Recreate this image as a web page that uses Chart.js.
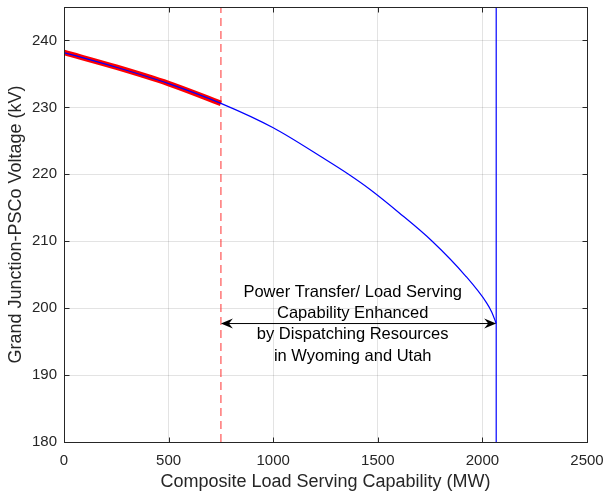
<!DOCTYPE html>
<html>
<head>
<meta charset="utf-8">
<script src="https://cdn.jsdelivr.net/npm/chart.js@4/dist/chart.umd.min.js"></script>
<style>
  html, body { margin: 0; padding: 0; background: #fff; }
  #wrap { width: 607px; height: 493px; }
</style>
</head>
<body>
<div id="wrap"><canvas id="c" width="607" height="493"></canvas></div>
<script>
// PV curve: composite load serving capability (MW) vs Grand Junction-PSCo voltage (kV)
const loadMW = [0, 250, 500, 750, 1000, 1250, 1360, 1460, 1600, 1760, 1920, 2020, 2045, 2066];
const voltageKV = [238.2, 236.0, 233.55, 230.6, 226.95, 222.2, 220.0, 217.8, 214.3, 210.0,
                   204.8, 200.8, 199.4, 197.7];

// Limits before and after dispatching resources in Wyoming and Utah
const baseLimitMW = 750;
const enhancedLimitMW = 2066;
const arrowKV = 197.7;
const annotationLines = ['Power Transfer/ Load Serving', 'Capability Enhanced',
                         'by Dispatching Resources', 'in Wyoming and Utah'];
const annotationMW = 1380;

// Axis ranges and tick values
const xRange = [0, 2500];
const yRange = [180, 245];
const xTicks = [0, 500, 1000, 1500, 2000, 2500];
const yTicks = [180, 190, 200, 210, 220, 230, 240];

const FONT = '"Liberation Sans", Arial, Helvetica, sans-serif';
const INK = '#262626';
const GRID = 'rgba(38,38,38,0.13)';

const curve = loadMW.map((x, i) => ({ x, y: voltageKV[i] }));
const baseSegment = curve.filter(p => p.x <= baseLimitMW);

const frameAndNotes = {
  id: 'frameAndNotes',
  afterDatasetsDraw(chart) {
    const { ctx, chartArea: a, scales: { x, y } } = chart;
    const snap = v => Math.round(v) + 0.5;
    ctx.save();
    // box and inward tick marks
    ctx.strokeStyle = INK;
    ctx.lineWidth = 1;
    ctx.beginPath();
    const L = snap(a.left), R = snap(a.right), T = snap(a.top), B = snap(a.bottom);
    ctx.rect(L, T, R - L, B - T);
    const tl = 5;
    xTicks.forEach(v => {
      const px = snap(x.getPixelForValue(v));
      ctx.moveTo(px, B); ctx.lineTo(px, B - tl);
      ctx.moveTo(px, T); ctx.lineTo(px, T + tl);
    });
    yTicks.forEach(v => {
      const py = snap(y.getPixelForValue(v));
      ctx.moveTo(L, py); ctx.lineTo(L + tl, py);
      ctx.moveTo(R, py); ctx.lineTo(R - tl, py);
    });
    ctx.stroke();

    // double-headed arrow between the two limits
    const x0 = x.getPixelForValue(baseLimitMW);
    const x1 = x.getPixelForValue(enhancedLimitMW);
    const ya = y.getPixelForValue(arrowKV);
    ctx.strokeStyle = '#000';
    ctx.fillStyle = '#000';
    ctx.beginPath();
    ctx.moveTo(x0 + 4, ya); ctx.lineTo(x1 - 4, ya);
    ctx.stroke();
    const head = (tip, dir) => {
      ctx.beginPath();
      ctx.moveTo(tip, ya);
      ctx.lineTo(tip + dir * 12, ya - 5);
      ctx.lineTo(tip + dir * 8, ya);
      ctx.lineTo(tip + dir * 12, ya + 5);
      ctx.closePath();
      ctx.fill();
    };
    head(x0, 1);
    head(x1, -1);

    // annotation text
    ctx.fillStyle = '#000';
    ctx.font = '16.5px ' + FONT;
    ctx.textAlign = 'center';
    ctx.textBaseline = 'middle';
    const cx = x.getPixelForValue(annotationMW);
    const lh = 21.3;
    const cy = ya + 0.5;
    annotationLines.forEach((t, i) => {
      ctx.fillText(t, cx, cy + (i - 1.5) * lh);
    });
    ctx.restore();
  }
};

const noEdgePadding = s => {
  s.paddingLeft = 0; s.paddingRight = 0; s.paddingTop = 0; s.paddingBottom = 0;
};

new Chart(document.getElementById('c'), {
  type: 'line',
  data: {
    datasets: [
      {
        data: curve, borderColor: '#0000ff', borderWidth: 1.2,
        pointRadius: 0, cubicInterpolationMode: 'monotone', order: 1
      },
      {
        data: baseSegment, borderColor: '#ff0000', borderWidth: 5.5,
        pointRadius: 0, cubicInterpolationMode: 'monotone', order: 2
      },
      {
        data: [{ x: baseLimitMW, y: yRange[0] }, { x: baseLimitMW, y: yRange[1] }],
        borderColor: 'rgba(255, 60, 60, 0.7)', borderWidth: 1.5, borderDash: [8, 5],
        pointRadius: 0, order: 3
      },
      {
        data: [{ x: enhancedLimitMW, y: yRange[0] }, { x: enhancedLimitMW, y: yRange[1] }],
        borderColor: '#0000ff', borderWidth: 1.2, pointRadius: 0, order: 1
      }
    ]
  },
  options: {
    responsive: false,
    animation: false,
    devicePixelRatio: 1,
    layout: { padding: { top: 7, right: 20, left: 0, bottom: 0 } },
    plugins: { legend: { display: false }, tooltip: { enabled: false } },
    scales: {
      x: {
        type: 'linear', min: xRange[0], max: xRange[1],
        afterFit: s => { s.height = 51; noEdgePadding(s); },
        afterBuildTicks: s => { s.ticks = xTicks.map(v => ({ value: v })); },
        grid: { color: GRID, drawTicks: false },
        border: { color: INK },
        ticks: {
          color: INK, font: { family: FONT, size: 15 }, padding: 10, maxRotation: 0,
          callback: v => String(v)
        },
        title: {
          display: true, text: 'Composite Load Serving Capability (MW)',
          color: INK, font: { family: FONT, size: 18 }, padding: { top: 0, bottom: 0 }
        }
      },
      y: {
        type: 'linear', min: yRange[0], max: yRange[1],
        afterFit: s => { s.width = 64; noEdgePadding(s); },
        afterBuildTicks: s => { s.ticks = yTicks.map(v => ({ value: v })); },
        grid: { color: GRID, drawTicks: false },
        border: { color: INK },
        ticks: {
          color: INK, font: { family: FONT, size: 15 }, padding: 7,
          callback: v => String(v)
        },
        title: {
          display: true, text: 'Grand Junction-PSCo Voltage (kV)',
          color: INK, font: { family: FONT, size: 18 }, padding: { top: 5, bottom: 0 }
        }
      }
    }
  },
  plugins: [frameAndNotes]
});
</script>
</body>
</html>
